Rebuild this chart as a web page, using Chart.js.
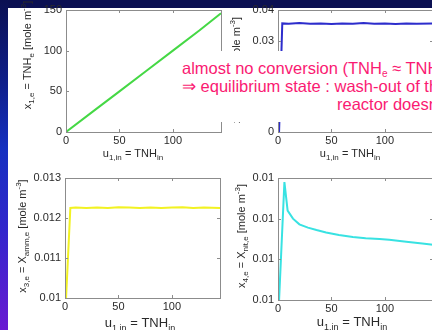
<!DOCTYPE html>
<html><head><meta charset="utf-8">
<script src="https://cdn.jsdelivr.net/npm/chart.js@4.4.1/dist/chart.umd.min.js"></script>
<style>
html,body{margin:0;padding:0;width:432px;height:330px;overflow:hidden;background:#0b1052;}
#stage{position:absolute;left:0;top:0;width:432px;height:330px;overflow:hidden;background:#0b1052;}
#leftband{position:absolute;left:0;top:0;width:8px;height:330px;background:linear-gradient(to bottom,#0b1052 0%,#0f1f8a 25%,#1530c0 45%,#3326cc 70%,#6a1ad2 100%);}
#panel{position:absolute;left:8px;top:8px;width:424px;height:322px;background:#ffffff;}
.cw{position:absolute;}
#note{position:absolute;left:178px;top:51px;width:260px;height:71px;background:#fff;color:#fa1a72;
 font-family:"Liberation Sans",Arial,sans-serif;font-size:16.5px;line-height:18px;white-space:nowrap;padding:8px 0 0 4px;box-sizing:border-box;overflow:visible;}
#note sub{font-size:10px;vertical-align:-3px;line-height:0;}
</style></head>
<body><div id="stage">
<div id="leftband"></div><div id="panel"></div>
<div class="cw" id="w1"><canvas id="c1"></canvas></div>
<div class="cw" id="w2"><canvas id="c2"></canvas></div>
<div class="cw" id="w3"><canvas id="c3"></canvas></div>
<div class="cw" id="w4"><canvas id="c4"></canvas></div>
<div id="note">almost no conversion (TNH<sub>e</sub> ≈ TNH<sub>in</sub>)<br>⇒ equilibrium state : wash-out of the<br><span style="padding-left:155px">reactor doesn't occur</span></div>
</div>
<script>
// ---- data ----
const u1  = [0, 25, 50, 75, 100, 125, 145];
const x1e = [0, 25, 50, 75, 100, 125, 146];

const u2  = [1, 4, 10, 20, 30, 40, 50, 60, 70, 80, 90, 100, 110, 120, 130, 145];
const x2e = [0, 0.0356, 0.0355, 0.0357, 0.0355, 0.0356, 0.0354, 0.0356, 0.0355, 0.0357, 0.0355, 0.0356, 0.0354, 0.0356, 0.0355, 0.0356];

const u3  = [1, 5, 10, 20, 30, 40, 50, 60, 70, 80, 90, 100, 110, 120, 130, 145];
const x3e = [0.0100, 0.01225, 0.01226, 0.01225, 0.01226, 0.01225, 0.01227, 0.01226, 0.01225, 0.01226, 0.01225, 0.01226, 0.01227, 0.01225, 0.01226, 0.01225];

const u4  = [1, 6, 9, 14, 20, 28, 36, 45, 57, 70, 82, 95, 104, 120, 135, 145];
const x4e = [0.01000, 0.01029, 0.01022, 0.01020, 0.010186, 0.010178, 0.010172, 0.010166, 0.01016, 0.010155, 0.010152, 0.01015, 0.010148, 0.010143, 0.010139, 0.010136];

const xTicks = [0, 50, 100];
const xTickLabels = ['0', '50', '100'];
const y1Ticks = [0, 50, 100, 150];
const y1TickLabels = ['0', '50', '100', '150'];
const y2Ticks = [0, 0.01, 0.02, 0.03, 0.04];
const y2TickLabels = ['0', '0.01', '0.02', '0.03', '0.04'];
const y3Ticks = [0.010, 0.011, 0.012, 0.013];
const y3TickLabels = ['0.01', '0.011', '0.012', '0.013'];
const y4Ticks = [0.0100, 0.0101, 0.0102, 0.0103];
const y4TickLabels = ['0.01', '0.01', '0.01', '0.01'];

const xTitle = [['u',0],['1,in',1],[' = TNH',0],['in',1]];
const y1Title = [['x',0],['1,e',1],[' = TNH',0],['e',1],[' [mole m',0],['-3',-1],[']',0]];
const y2Title = [['x',0],['2,e',1],[' = X',0],['bio,e',1],[' [mole m',0],['-3',-1],[']',0]];
const y3Title = [['x',0],['3,e',1],[' = X',0],['amm,e',1],[' [mole m',0],['-3',-1],[']',0]];
const y4Title = [['x',0],['4,e',1],[' = X',0],['nit,e',1],[' [mole m',0],['-3',-1],[']',0]];

const FONT = '"Liberation Sans", Arial, sans-serif';
const TXT = '#2a2a2a';

function drawRich(ctx, segs, cx, cy, rot, size){
  ctx.save();
  ctx.translate(cx, cy);
  if (rot) ctx.rotate(-Math.PI/2);
  const small = Math.round(size*0.72);
  let total = 0;
  const ms = segs.map(s => {
    const f = s[1] ? small : size;
    ctx.font = f + 'px ' + FONT;
    const w = ctx.measureText(s[0]).width;
    total += w;
    return {t:s[0], f:f, w:w, d:s[1]};
  });
  let x = -total/2;
  ctx.fillStyle = TXT;
  ctx.textBaseline = 'alphabetic';
  ctx.textAlign = 'left';
  const base = size*0.36;
  for (const m of ms){
    ctx.font = m.f + 'px ' + FONT;
    const dy = m.d === 1 ? size*0.3 : (m.d === -1 ? -size*0.42 : 0);
    ctx.fillText(m.t, x, base + dy);
    x += m.w;
  }
  ctx.restore();
}

const PADL = 60, PADT = 14, PADR = 8, PADB = 44;

function makeChart(id, wrapId, area, xs, ys, color, yMin, yMax, yT, yTL, yTitle, yTitlePos, xTitlePos, xTitleSize){
  const w = document.getElementById(wrapId);
  const cl = area.l - PADL, ct = area.t - PADT;
  const cw = area.r - area.l + PADL + PADR, ch = area.b - area.t + PADT + PADB;
  w.style.left = cl + 'px'; w.style.top = ct + 'px';
  w.style.width = cw + 'px'; w.style.height = ch + 'px';
  const cv = document.getElementById(id);
  cv.width = cw; cv.height = ch;
  cv.style.width = cw + 'px'; cv.style.height = ch + 'px';

  const boxPlugin = {
    id: 'box' + id,
    afterDatasetsDraw(chart){
      const {ctx, chartArea:a, scales} = chart;
      ctx.save();
      ctx.strokeStyle = '#8c8c8c';
      ctx.lineWidth = 1;
      ctx.strokeRect(Math.round(a.left)+0.5, Math.round(a.top)+0.5, Math.round(a.right-a.left), Math.round(a.bottom-a.top));
      ctx.beginPath();
      const tl = 3;
      for (const v of xTicks){
        const px = Math.round(scales.x.getPixelForValue(v)) + 0.5;
        if (px < a.left - 1 || px > a.right + 1) continue;
        ctx.moveTo(px, a.bottom); ctx.lineTo(px, a.bottom - tl);
        ctx.moveTo(px, a.top); ctx.lineTo(px, a.top + tl);
      }
      for (const v of yT){
        const py = Math.round(scales.y.getPixelForValue(v)) + 0.5;
        ctx.moveTo(a.left, py); ctx.lineTo(a.left + tl, py);
        ctx.moveTo(a.right, py); ctx.lineTo(a.right - tl, py);
      }
      ctx.stroke();
      ctx.restore();
    },
    afterDraw(chart){
      const ctx = chart.ctx;
      drawRich(ctx, yTitle, yTitlePos[0] - cl, yTitlePos[1] - ct, true, 11);
      drawRich(ctx, xTitle, xTitlePos[0] - cl, xTitlePos[1] - ct, false, xTitleSize);
    }
  };

  return new Chart(cv, {
    type: 'line',
    data: { datasets: [{
      data: xs.map((x,i) => ({x:x, y:ys[i]})),
      borderColor: color, borderWidth: 2, pointRadius: 0, tension: 0, fill: false
    }]},
    options: {
      responsive: false, animation: false, devicePixelRatio: 1,
      layout: { padding: {left:0, top:PADT, right:PADR, bottom:0} },
      plugins: { legend:{display:false}, tooltip:{enabled:false}, title:{display:false} },
      scales: {
        x: {
          type: 'linear', min: 0, max: 145,
          afterFit(s){ s.height = PADB; },
          afterBuildTicks(s){ s.ticks = xTicks.map(v => ({value:v})); },
          grid: { display:false, drawTicks:false },
          border: { display:false },
          ticks: { padding: 2, color: TXT, font:{family:FONT, size:11}, maxRotation:0,
                   callback: (v, i) => xTickLabels[xTicks.indexOf(v)] }
        },
        y: {
          type: 'linear', min: yMin, max: yMax,
          afterFit(s){ s.width = PADL; },
          afterBuildTicks(s){ s.ticks = yT.map(v => ({value:v})); },
          grid: { display:false, drawTicks:false },
          border: { display:false },
          ticks: { padding: 4, color: TXT, font:{family:FONT, size:11},
                   callback: (v, i) => yTL[yT.indexOf(v)] }
        }
      }
    },
    plugins: [boxPlugin]
  });
}

makeChart('c1','w1',{l:66,t:10,r:221,b:132}, u1, x1e, '#45d845', 0, 150, y1Ticks, y1TickLabels, y1Title, [27,55], [133,153], 11);
makeChart('c2','w2',{l:278,t:10,r:433,b:132}, u2, x2e, '#2d2dcc', 0, 0.04, y2Ticks, y2TickLabels, y2Title, [236,70], [350,153], 11);
makeChart('c3','w3',{l:65,t:178,r:220,b:298}, u3, x3e, '#f2f222', 0.010, 0.013, y3Ticks, y3TickLabels, y3Title, [22,236], [140,322], 13);
makeChart('c4','w4',{l:278,t:178,r:433,b:300}, u4, x4e, '#38e2e2', 0.0100, 0.0103, y4Ticks, y4TickLabels, y4Title, [241,236], [352,321], 13);
</script>
</body></html>
